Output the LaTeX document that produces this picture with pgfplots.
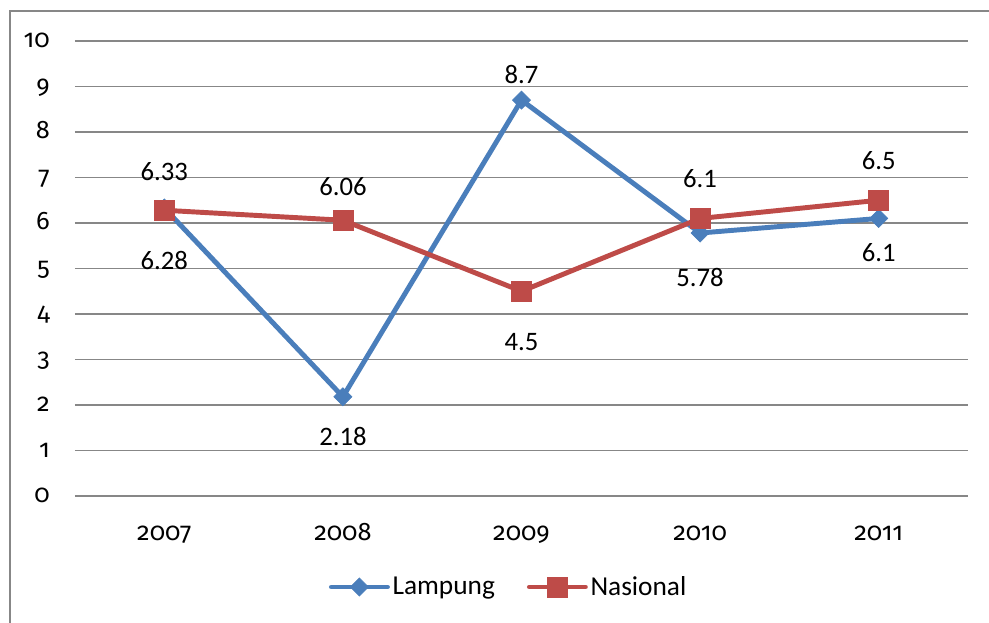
\documentclass[border=0pt]{standalone}
\usepackage{pgfplots}
\pgfplotsset{compat=1.18}
\usepackage{pgfplotstable}
\usepackage{fontspec}
\setmainfont{Carlito}
\newfontfamily\tickfont{Fira Sans}[Numbers=OldStyle]
\definecolor{lblue}{HTML}{4A7EBB}
\definecolor{nred}{HTML}{BE4B48}
\definecolor{gridc}{HTML}{878787}

\pgfplotstableread{
x y dy
0 6.33 27
1 2.18 -30
2 8.7 19.5
3 5.78 -33
4 6.1 -25.5
}\lampung
\pgfplotstableread{
x y dy
0 6.28 -37.5
1 6.06 25
2 4.5 -38
3 6.1 30
4 6.5 30
}\nasional

\begin{document}
\begin{tikzpicture}
\useasboundingbox (-56.25pt,-95.25pt) rectangle ++(741.75pt,467.25pt);
\draw[gridc, line width=0.9pt] (-48.75pt,-120pt) -- (-48.75pt,363.75pt) -- (720pt,363.75pt);
\begin{axis}[
  at={(0,0)}, anchor=south west, scale only axis,
  width=669.75pt, height=341.25pt,
  xmin=-0.5, xmax=4.5, ymin=0, ymax=10,
  xtick={0,...,4}, xticklabels={2007,2008,2009,2010,2011},
  ytick={0,...,10},
  axis line style={draw=none}, major tick length=0pt,
  ymajorgrids, grid style={gridc, line width=1pt},
  /pgf/number format/assume math mode=true,
  ticklabel style={font=\tickfont\fontsize{19}{19}\selectfont, inner sep=0pt},
  xticklabel style={anchor=base, yshift=-33.75pt},
  yticklabel style={anchor=base east, xshift=-18.75pt, yshift=-5.25pt},
  nodes near coords,
  nodes near coords style={font=\fontsize{20}{20}\selectfont, anchor=center, inner sep=0pt, text=black},
  visualization depends on={\thisrow{dy}\as\dy},
  every node near coord/.append style={yshift=\dy pt},
  legend style={at={(axis description cs:0.486,-0.2)}, anchor=center, draw=none, fill=none,
    font=\fontsize{20.5}{20.5}\selectfont, legend columns=2,
    /tikz/every even column/.append style={column sep=22pt}},
  legend image code/.code={\draw[mark repeat=2,mark phase=2,line cap=round] plot coordinates {(0pt,0pt)(21pt,0pt)(42pt,0pt)};},
]
\addplot[lblue, line width=3.7pt, mark=square*, mark size=4.8pt, mark options={solid, rotate=45, line width=0.5pt}] table[x=x,y=y] {\lampung};
\addlegendentry{Lampung}
\addplot[nred, line width=3.7pt, mark=square*, mark size=7.5pt, mark options={solid, line width=0.5pt}] table[x=x,y=y] {\nasional};
\addlegendentry{Nasional}
\end{axis}
\end{tikzpicture}
\end{document}
